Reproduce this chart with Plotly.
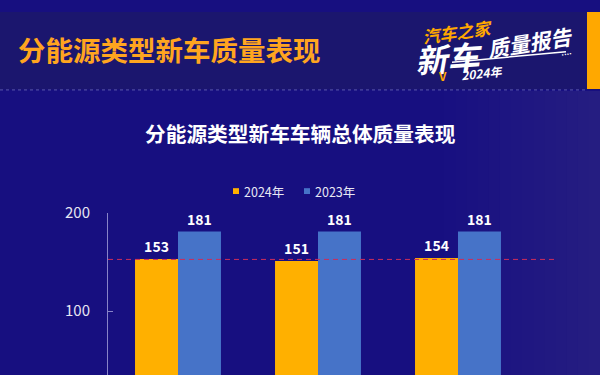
import plotly.graph_objects as go

# ---- data ----
categories = ["燃油车", "插电混动", "纯电动"]
series_names = ["2024年", "2023年"]
values_2024 = [153, 151, 154]
values_2023 = [181, 181, 181]
y_ticks = [100, 200]

page_title = "分能源类型新车质量表现"
chart_title = "分能源类型新车车辆总体质量表现"

ORANGE = "#FFB000"
BLUE = "#4673C8"
BG = "#170f80"
FONT = "Noto Sans CJK SC"

W, H = 600, 375
mean_2024 = sum(values_2024) / len(values_2024)

fig = go.Figure()
fig.add_trace(go.Bar(
    x=categories, y=values_2024, name=series_names[0], marker_color=ORANGE,
    marker_line_width=0, texttemplate="%{y}", textposition="outside",
    textfont=dict(color="white", size=14, family=FONT, weight="bold"),
    cliponaxis=False, showlegend=False))
fig.add_trace(go.Bar(
    x=categories, y=values_2023, name=series_names[1], marker_color=BLUE,
    marker_line_width=0, texttemplate="%{y}", textposition="outside",
    textfont=dict(color="white", size=14, family=FONT, weight="bold"),
    cliponaxis=False, showlegend=False))

shapes = []
# right-side lighter gradient
n = 14
for i in range(n):
    x0 = 0.74 + i * (0.26 / n)
    shapes.append(dict(type="rect", xref="paper", yref="paper", x0=x0, x1=1.0,
                       y0=0, y1=1 - 81 / H, fillcolor="rgba(70,80,190,0.022)",
                       line_width=0, layer="below"))
# header band
shapes.append(dict(type="rect", xref="paper", yref="paper", x0=0, x1=1,
                   y0=1 - 80 / H, y1=1, fillcolor="#1b166e", line_width=0, layer="below"))
# dotted separator
shapes.append(dict(type="line", xref="paper", yref="paper", x0=0, x1=587 / W,
                   y0=1 - 80.5 / H, y1=1 - 80.5 / H,
                   line=dict(color="rgba(150,150,210,0.55)", width=1, dash="dot"), layer="below"))
# orange stripe
shapes.append(dict(type="rect", xref="paper", yref="paper", x0=587 / W, x1=1,
                   y0=1 - 79.5 / H, y1=1, fillcolor="#FFA800", line_width=0, layer="below"))
# average line
shapes.append(dict(type="line", xref="x domain", yref="y", x0=0, x1=1,
                   y0=mean_2024, y1=mean_2024,
                   line=dict(color="rgba(205,45,90,1)", width=1, dash="5px,4px"),
                   layer="above"))
# logo swoosh
shapes.append(dict(type="line", xref="paper", yref="paper", x0=452 / W, x1=566 / W,
                   y0=1 - 52 / H, y1=1 - 41 / H, line=dict(color="white", width=1.5)))

# custom legend squares
leg_y = 185
leg_items = [(233, ORANGE, series_names[0]), (304, BLUE, series_names[1])]
annotations = []
for x0, col, name in leg_items:
    shapes.append(dict(type="rect", xref="paper", yref="paper",
                       x0=x0 / W, x1=(x0 + 6) / W,
                       y0=1 - (leg_y + 3) / H, y1=1 - (leg_y - 3) / H,
                       fillcolor=col, line_width=0))
    annotations.append(dict(text=name, xref="paper", yref="paper",
                            x=(x0 + 9) / W, y=1 - leg_y / H, xanchor="left", yanchor="middle",
                            showarrow=False, font=dict(color="#e8e8f4", size=12.5, family=FONT)))

# titles
annotations.append(dict(text="<b>" + page_title + "</b>", xref="paper", yref="paper",
                        x=16 / W, y=1 - 38 / H, xanchor="left", yanchor="middle",
                        showarrow=False, font=dict(color="#FFA51F", size=27.5, family=FONT)))
annotations.append(dict(text="<b>" + chart_title + "</b>", xref="paper", yref="paper",
                        x=300 / W, y=1 - 124.5 / H, xanchor="center", yanchor="middle",
                        showarrow=False, font=dict(color="white", size=20.7, family=FONT)))

# logo texts
logo = [
    ("<b><i>汽车之家</i></b>", 457, 20, 17, "#FFA800", -8),
    ("<b><i>新车</i></b>", 449, 47, 32, "white", -4),
    ("<b><i>质量报告</i></b>", 530, 31, 21, "white", -9),
    ("<b><i>2024年</i></b>", 482, 62, 12, "white", -6),
    ("<b>V</b>", 442, 66, 12, "#FFA800", 0),
    ("<b>....</b>", 566, 41, 8, "white", -9),
]
for txt, x, y, sz, col, ang in logo:
    annotations.append(dict(text=txt, xref="paper", yref="paper", x=x / W, y=1 - y / H,
                            xanchor="center", yanchor="middle", showarrow=False,
                            textangle=ang, font=dict(color=col, size=sz, family=FONT)))

px_per_unit = 140.0
x_left, x_right = 108, 555
xr0 = -0.5
xr1 = xr0 + (x_right - x_left) / px_per_unit

y_top_px = 207.5
px_per_val = 1.016
y_bottom_val = 200 - (H - y_top_px) / px_per_val

fig.update_layout(
    width=W, height=H, margin=dict(l=0, r=0, t=0, b=0),
    paper_bgcolor=BG, plot_bgcolor="rgba(0,0,0,0)",
    barmode="group", bargap=0.386, bargroupgap=0,
    showlegend=False,
    font=dict(family=FONT),
    shapes=shapes, annotations=annotations,
    xaxis=dict(domain=[x_left / W, x_right / W], range=[xr0, xr1],
               showticklabels=False, showline=False, showgrid=False,
               zeroline=False, ticks=""),
    yaxis=dict(domain=[0, (H - y_top_px) / H], range=[y_bottom_val, 200],
               tickvals=y_ticks, showgrid=False, zeroline=False,
               showline=True, linecolor="#8884c8", linewidth=1,
               ticks="inside", ticklen=5, tickcolor="#8884c8",
               ticklabelstandoff=14,
               tickfont=dict(color="#e6e6f2", size=15, family=FONT)),
)

fig.write_html("out.html")
